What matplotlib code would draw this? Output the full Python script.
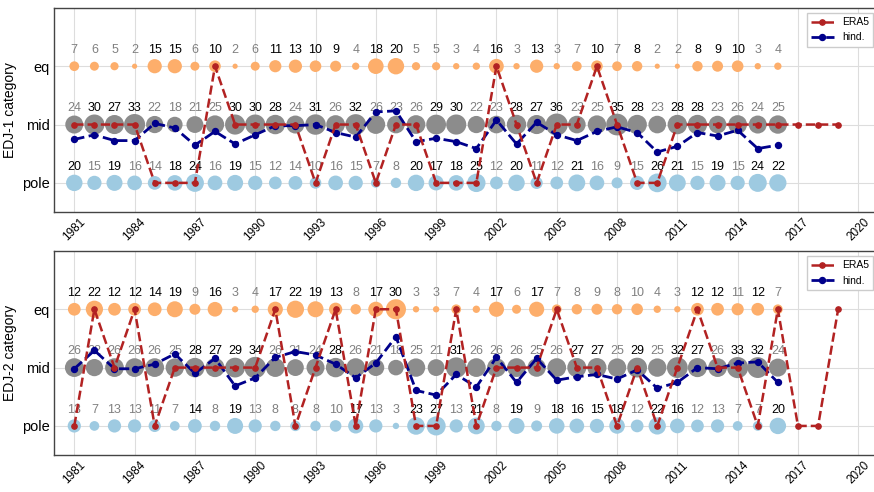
import numpy as np
import matplotlib
matplotlib.use("Agg")
import matplotlib.pyplot as plt

plt.rcParams["font.family"] = ["Liberation Sans", "DejaVu Sans"]

# hindcast years and ERA5 years
years_hind = list(range(1981, 2017))
years_era5 = list(range(1981, 2020))
categories = ["pole", "mid", "eq"]
xtick_years = list(range(1981, 2021, 3))

# EDJ-1: ensemble member counts per category
edj1_eq = [7, 6, 5, 2, 15, 15, 6, 10, 2, 6, 11, 13, 10, 9, 4, 18, 20, 5, 5, 3,
           4, 16, 3, 13, 3, 7, 10, 7, 8, 2, 2, 8, 9, 10, 3, 4]
edj1_mid = [24, 30, 27, 33, 22, 18, 21, 25, 30, 30, 28, 24, 31, 26, 32, 26, 23, 26, 29, 30,
            22, 23, 28, 27, 36, 23, 25, 35, 28, 23, 28, 28, 23, 26, 24, 25]
edj1_pole = [20, 15, 19, 16, 14, 18, 24, 16, 19, 15, 12, 14, 10, 16, 15, 7, 8, 20, 17, 18,
             25, 12, 20, 11, 12, 21, 16, 9, 15, 26, 21, 15, 19, 15, 24, 22]
edj1_hind = [0.745, 0.824, 0.725, 0.725, 1.020, 0.941, 0.647, 0.882, 0.667, 0.824,
             0.980, 0.980, 1.000, 0.863, 0.784, 1.216, 1.235, 0.706, 0.765, 0.706,
             0.588, 1.078, 0.667, 1.039, 0.824, 0.725, 0.882, 0.961, 0.863, 0.529,
             0.627, 0.863, 0.804, 0.902, 0.588, 0.647]
edj1_era5 = ["mid", "mid", "mid", "mid", "pole", "pole", "pole", "eq", "mid", "mid",
             "mid", "mid", "pole", "mid", "mid", "pole", "mid", "mid", "pole", "pole",
             "pole", "eq", "mid", "pole", "mid", "mid", "eq", "mid", "pole", "pole",
             "mid", "mid", "mid", "mid", "mid", "mid", "mid", "mid", "mid"]

# EDJ-2
edj2_eq = [12, 22, 12, 12, 14, 19, 9, 16, 3, 4, 17, 22, 19, 13, 8, 17, 30, 3, 3, 7,
           4, 17, 6, 17, 7, 8, 9, 8, 10, 4, 3, 12, 12, 11, 12, 7]
edj2_mid = [26, 22, 26, 26, 26, 25, 28, 27, 29, 34, 26, 21, 24, 28, 26, 21, 18, 25, 21, 31,
            26, 26, 26, 25, 26, 27, 27, 25, 29, 25, 32, 27, 26, 33, 32, 24]
edj2_pole = [13, 7, 13, 13, 11, 7, 14, 8, 19, 13, 8, 8, 8, 10, 17, 13, 3, 23, 27, 13,
             21, 8, 19, 9, 18, 16, 15, 18, 12, 22, 16, 12, 13, 7, 7, 20]
edj2_hind = [0.980, 1.294, 0.980, 0.980, 1.059, 1.235, 0.902, 1.157, 0.686, 0.824,
             1.176, 1.275, 1.216, 1.059, 0.824, 1.078, 1.529, 0.608, 0.529, 0.882,
             0.667, 1.176, 0.745, 1.157, 0.784, 0.843, 0.882, 0.804, 0.961, 0.647,
             0.745, 1.000, 0.980, 1.078, 1.098, 0.745]
edj2_era5 = ["pole", "eq", "mid", "eq", "pole", "mid", "mid", "mid", "mid", "mid",
             "eq", "pole", "mid", "eq", "pole", "eq", "eq", "pole", "pole", "eq",
             "pole", "mid", "mid", "mid", "eq", "mid", "mid", "pole", "mid", "pole",
             "mid", "eq", "mid", "mid", "pole", "eq", "pole", "pole", "eq"]

bubble_colors = {"eq": "#fdae6b", "mid": "#8c8c8c", "pole": "#9ecae1"}


def plot_panel(ax, counts, hind, era5, ylabel):
    ypos = {c: i for i, c in enumerate(categories)}
    for cat in ["eq", "mid", "pole"]:
        vals = np.array(counts[cat])
        y = np.full(len(years_hind), ypos[cat])
        ax.scatter(years_hind, y, s=7 * vals, color=bubble_colors[cat],
                   edgecolor="none", zorder=2)
        # black label when above the category's mean count
        mean = vals.mean()
        for yr, v in zip(years_hind, vals):
            ax.text(yr, ypos[cat] + 0.28, str(v), ha="center", va="center",
                    fontsize=9, color="black" if v > mean else "grey", zorder=2.5)

    ax.plot(years_era5, [ypos[c] for c in era5], "--", color="firebrick",
            lw=1.8, marker="o", markersize=3.8, label="ERA5", zorder=5)
    ax.plot(years_hind, hind, "--", color="darkblue", lw=2.0, marker="o",
            markersize=4.3, label="hind.", zorder=4)

    ax.set_xlim(1980, 2021)
    ax.set_ylim(-0.5, 3.0)
    ax.set_yticks(range(3))
    ax.set_yticklabels(categories, fontsize=10.5)
    ax.set_xticks(xtick_years)
    ax.set_xticklabels([str(y) for y in xtick_years], rotation=45, fontsize=8.5)
    ax.set_ylabel(ylabel, fontsize=10)
    ax.grid(True, color="#dddddd", lw=0.8, zorder=0)
    ax.set_axisbelow(True)
    ax.tick_params(length=0, pad=3)
    for sp in ax.spines.values():
        sp.set_color("#444444")
        sp.set_linewidth(1.0)
    ax.legend(loc="upper right", fontsize=7.5, framealpha=1, edgecolor="#cccccc",
              fancybox=False, handlelength=2.2)


fig = plt.figure(figsize=(8.74, 4.92), dpi=100)
ax1 = fig.add_axes([0.062, 0.569, 0.943, 0.415])
ax2 = fig.add_axes([0.062, 0.075, 0.943, 0.415])

plot_panel(ax1, {"eq": edj1_eq, "mid": edj1_mid, "pole": edj1_pole},
           edj1_hind, edj1_era5, "EDJ-1 category")
plot_panel(ax2, {"eq": edj2_eq, "mid": edj2_mid, "pole": edj2_pole},
           edj2_hind, edj2_era5, "EDJ-2 category")

fig.savefig("out.png", dpi=100)
